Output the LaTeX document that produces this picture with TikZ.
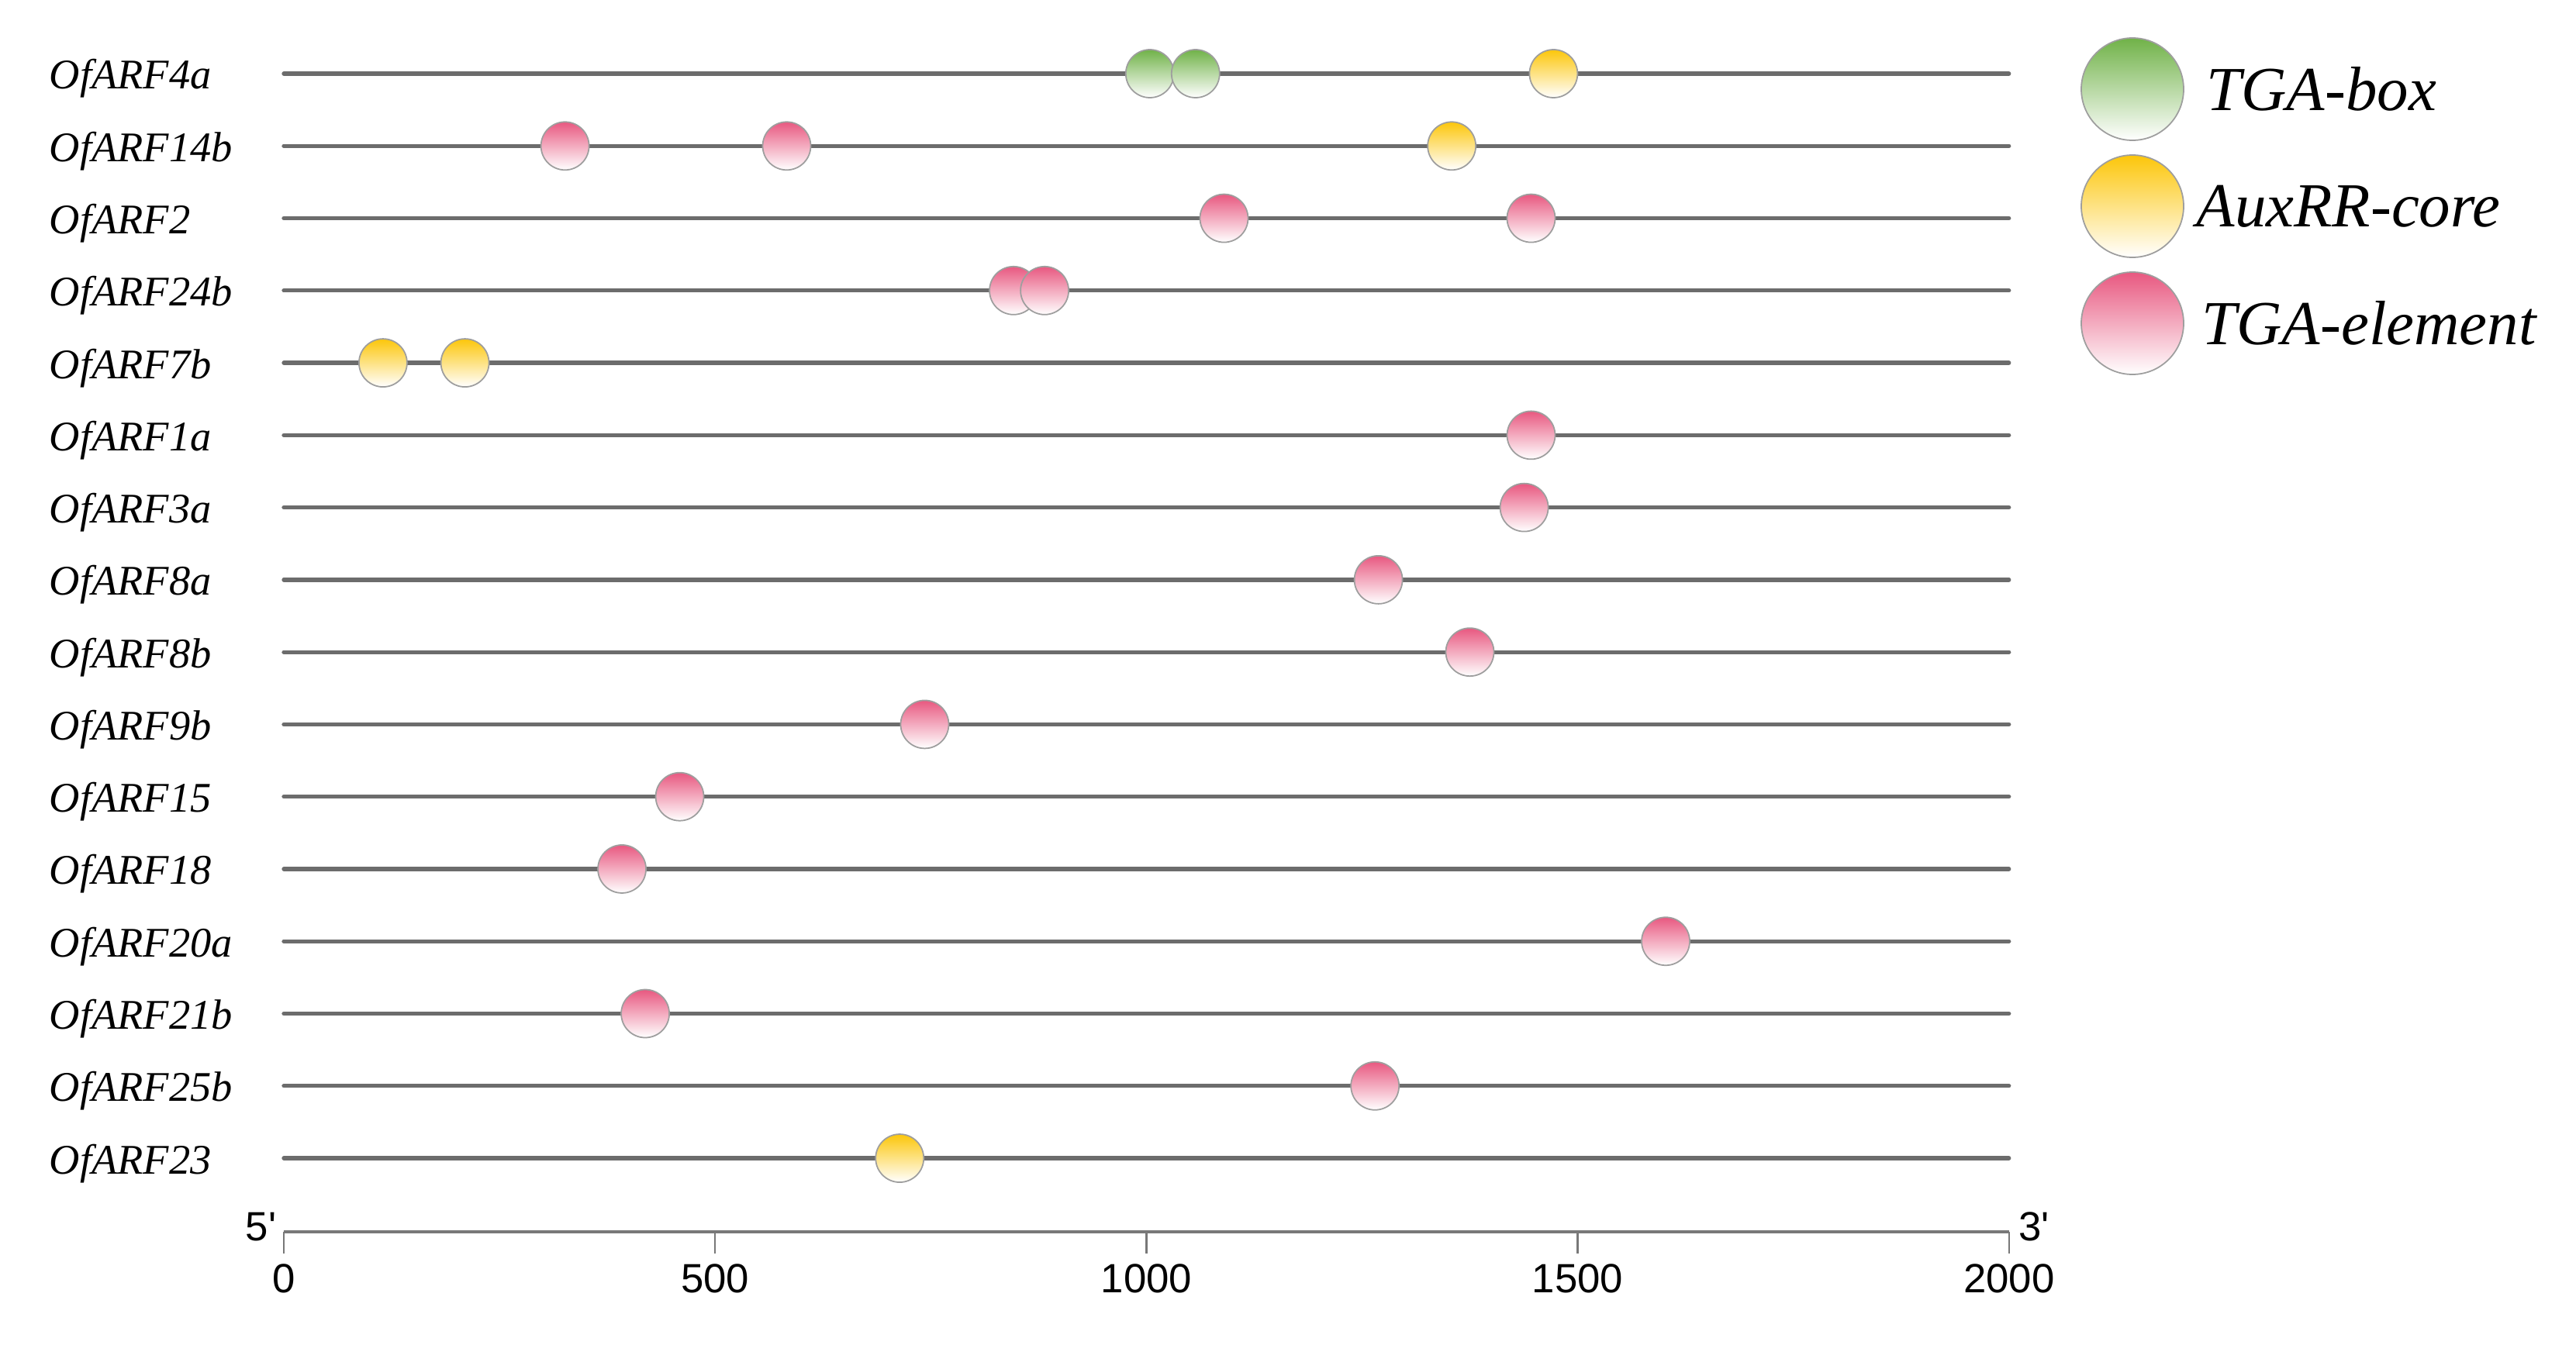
\documentclass[tikz,border=0pt]{standalone}
\usepackage{fontspec}
\setmainfont{Liberation Serif}
\setsansfont{Liberation Sans}
\usetikzlibrary{positioning,calc}
\definecolor{TGAGreen}{RGB}{112,178,72}
\definecolor{AuxYellow}{RGB}{252,198,10}
\definecolor{ElemPink}{RGB}{232,88,128}
\definecolor{LineGray}{RGB}{108,108,108}
\definecolor{AxisGray}{RGB}{120,120,120}
\tikzset{
  genelabel/.style={anchor=base west,inner sep=0pt,
    font=\fontsize{15.5}{18}\selectfont\itshape},
  geneline/.style={draw=LineGray,line width=1.5pt,line cap=round},
  site/.style={circle,draw=black!38,line width=0.5pt,
    minimum size=0.62cm,inner sep=0pt},
  tgabox/.style={site,top color=TGAGreen,middle color=TGAGreen!40,bottom color=white},
  auxrr/.style={site,top color=AuxYellow,middle color=AuxYellow!40,bottom color=white},
  tgaelem/.style={site,top color=ElemPink,middle color=ElemPink!40,bottom color=white},
  axisline/.style={draw=AxisGray,line width=0.9pt},
  ticklabel/.style={anchor=north,inner sep=0pt,font=\sffamily\fontsize{15}{18}\selectfont},
  legsite/.style={minimum size=1.32cm},
  legtext/.style={inner sep=0pt,font=\fontsize{23}{26}\selectfont\itshape}
}
\begin{document}
\begin{tikzpicture}
  \useasboundingbox (0,0) rectangle (33.22,-17.35);
  % genes and promoter sites (x in bp)
  \begin{scope}[shift={(3.66cm,0)},x=0.011125cm]
    \foreach \gene/\sites [count=\r from 0] in {
      OfARF4a/{1004/tgabox,1057/tgabox,1472/auxrr},
      OfARF14b/{326/tgaelem,583/tgaelem,1354/auxrr},
      OfARF2/{1090/tgaelem,1446/tgaelem},
      OfARF24b/{846/tgaelem,882/tgaelem},
      OfARF7b/{115/auxrr,210/auxrr},
      OfARF1a/{1446/tgaelem},
      OfARF3a/{1438/tgaelem},
      OfARF8a/{1269/tgaelem},
      OfARF8b/{1375/tgaelem},
      OfARF9b/{743/tgaelem},
      OfARF15/{459/tgaelem},
      OfARF18/{392/tgaelem},
      OfARF20a/{1602/tgaelem},
      OfARF21b/{419/tgaelem},
      OfARF25b/{1265/tgaelem},
      OfARF23/{714/auxrr}} {
      \pgfmathsetmacro\yy{-0.95-0.9327*\r}
      \node[genelabel] (lab\r) at ($(-3.03cm,\yy)+(0,-0.20)$) {\gene};
      \coordinate (g\r s) at (0,\yy);
      \coordinate (g\r e) at (2000,\yy);
      \draw[geneline] (g\r s) -- (g\r e);
      \foreach \pos/\kind [count=\k] in \sites
        \node[\kind] (site\r-\k) at (\pos,\yy) {};
    }
    % scale bar
    \coordinate (ax0) at (0,-15.89);
    \coordinate (ax2000) at (2000,-15.89);
    \draw[axisline] (ax0) -- (ax2000);
    \foreach \v in {0,500,1000,1500,2000} {
      \draw[AxisGray,line width=0.7pt] (\v,-15.89) -- (\v,-16.17);
      \node[ticklabel] (tick\v) at (\v,-16.30) {\v};
    }
    \node[ticklabel,anchor=base east] (five) at ($(ax0)+(-0.09cm,-0.11)$) {5\textquotesingle};
    \node[ticklabel,anchor=base west] (three) at ($(ax2000)+(0.12cm,-0.11)$) {3\textquotesingle};
  \end{scope}
  % legend
  \node[tgabox,legsite] (legA) at (27.50,-1.15) {};
  \node[auxrr,legsite] (legB) at (27.50,-2.66) {};
  \node[tgaelem,legsite] (legC) at (27.50,-4.17) {};
  \node[legtext,right=0.28cm of legA] (txtA) {TGA-box};
  \node[legtext,right=0.15cm of legB] (txtB) {AuxRR-core};
  \node[legtext,right=0.22cm of legC] (txtC) {TGA-element};
\end{tikzpicture}
\end{document}
